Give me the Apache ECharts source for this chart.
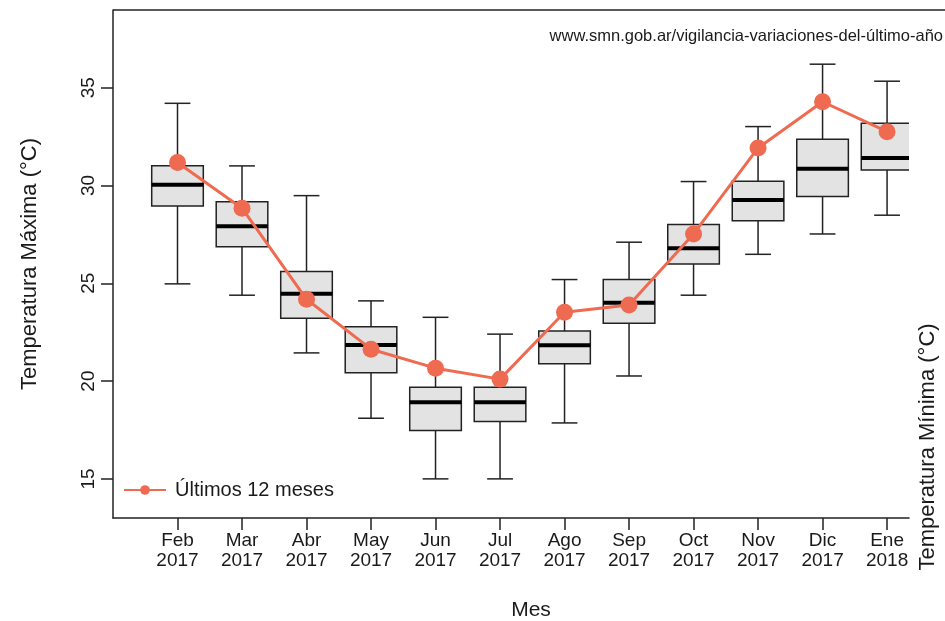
<!DOCTYPE html>
<html>
<head>
<meta charset="utf-8">
<script src="https://cdn.jsdelivr.net/npm/echarts@6/dist/echarts.min.js"></script>
<style>
  html, body { margin: 0; padding: 0; background: #fff; }
  #chart { width: 945px; height: 621px; }
</style>
</head>
<body>
<div id="chart"></div>
<script>
var months = ['Feb', 'Mar', 'Abr', 'May', 'Jun', 'Jul', 'Ago', 'Sep', 'Oct', 'Nov', 'Dic', 'Ene'];
var years = ['2017', '2017', '2017', '2017', '2017', '2017', '2017', '2017', '2017', '2017', '2017', '2018'];

// historical box stats per month
var whiskerLow = [24.97, 24.39, 21.44, 18.10, 15.00, 15.00, 17.86, 20.26, 24.39, 26.48, 27.52, 28.48];
var q1 = [28.95, 26.87, 23.21, 20.42, 17.47, 17.93, 20.89, 22.96, 25.99, 28.20, 29.43, 30.79];
var median = [30.04, 27.92, 24.47, 21.85, 18.92, 18.92, 21.83, 24.00, 26.79, 29.26, 30.86, 31.41];
var q3 = [31.01, 29.17, 25.60, 22.78, 19.69, 19.69, 22.56, 25.19, 28.00, 30.22, 32.36, 33.18];
var whiskerHigh = [34.20, 31.00, 29.48, 24.10, 23.26, 22.40, 25.19, 27.10, 30.20, 33.01, 36.20, 35.33];

// last 12 months
var last12 = [31.17, 28.84, 24.18, 21.63, 20.66, 20.10, 23.52, 23.89, 27.52, 31.92, 34.28, 32.75];

var yTicks = [15, 20, 25, 30, 35];

var positions = months.map(function (m, i) { return i + 1; });
var boxData = positions.map(function (p, i) {
    return [p, whiskerLow[i], q1[i], median[i], q3[i], whiskerHigh[i]];
});
var lineData = positions.map(function (p, i) { return [p, last12[i]]; });

var chart = echarts.init(document.getElementById('chart'));

function renderBox(params, api) {
    var x = api.value(0);
    var lo = api.coord([x, api.value(1)]);
    var b1 = api.coord([x, api.value(2)]);
    var md = api.coord([x, api.value(3)]);
    var b3 = api.coord([x, api.value(4)]);
    var hi = api.coord([x, api.value(5)]);
    var half = api.size([0.8, 0])[0] / 2;
    var stap = api.size([0.4, 0])[0] / 2;
    var st = { stroke: '#222', lineWidth: 1.5 };
    return {
        type: 'group',
        children: [
            { type: 'line', shape: { x1: lo[0], y1: b1[1], x2: lo[0], y2: lo[1] }, style: st },
            { type: 'line', shape: { x1: hi[0], y1: b3[1], x2: hi[0], y2: hi[1] }, style: st },
            { type: 'line', shape: { x1: lo[0] - stap, y1: lo[1], x2: lo[0] + stap, y2: lo[1] }, style: st },
            { type: 'line', shape: { x1: hi[0] - stap, y1: hi[1], x2: hi[0] + stap, y2: hi[1] }, style: st },
            { type: 'rect', shape: { x: b3[0] - half, y: b3[1], width: half * 2, height: b1[1] - b3[1] },
              style: { fill: '#e3e3e3', stroke: '#222', lineWidth: 1.5 } },
            { type: 'line', shape: { x1: md[0] - half, y1: md[1], x2: md[0] + half, y2: md[1] },
              style: { stroke: '#000', lineWidth: 4 } }
        ]
    };
}

var font = 'Liberation Sans, Arial, sans-serif';

var option = {
    animation: false,
    textStyle: { fontFamily: font },
    grid: { left: 113, top: 10, right: 36, bottom: 103 },
    legend: {
        left: 118, top: 475,
        itemWidth: 42, itemHeight: 12,
        textStyle: { fontSize: 20, color: '#1a1a1a', fontFamily: font, padding: [0, 0, 0, 4] },
        data: ['Últimos 12 meses']
    },
    xAxis: {
        type: 'value', min: 0, max: 12.34,
        splitLine: { show: false },
        axisLine: { onZero: false, lineStyle: { color: '#222', width: 1.5 } },
        axisTick: { length: 12, customValues: positions, lineStyle: { color: '#222', width: 1.5 } },
        axisLabel: {
            customValues: positions, margin: 13, fontSize: 19, lineHeight: 20, color: '#1a1a1a',
            formatter: function (v) { var i = Math.round(v) - 1; return months[i] + '\n' + years[i]; }
        }
    },
    yAxis: {
        type: 'value', min: 13.0, max: 38.97,
        name: 'Temperatura Máxima (°C)', nameLocation: 'middle', nameGap: 72,
        nameTextStyle: { fontSize: 22, color: '#1a1a1a' },
        splitLine: { show: false },
        axisLine: { show: true, lineStyle: { color: '#222', width: 1.5 } },
        axisTick: { show: true, length: 12, customValues: yTicks, lineStyle: { color: '#222', width: 1.5 } },
        axisLabel: { customValues: yTicks, rotate: 90, margin: 15, fontSize: 19, color: '#1a1a1a' }
    },
    graphic: [
        { type: 'line', shape: { x1: 113, y1: 10, x2: 945, y2: 10 }, style: { stroke: '#222', lineWidth: 1.5 } },
        { type: 'text', right: 2, top: 28,
          style: { text: 'www.smn.gob.ar/vigilancia-variaciones-del-último-año', font: '16.5px ' + font, fill: '#1a1a1a' } },
        { type: 'text', x: 531, y: 610,
          style: { text: 'Mes', font: '21px ' + font, fill: '#1a1a1a', align: 'center', verticalAlign: 'middle' } },
        { type: 'text', x: 928, y: 447, rotation: Math.PI / 2,
          style: { text: 'Temperatura Mínima (°C)', font: '22px ' + font, fill: '#1a1a1a', align: 'center', verticalAlign: 'middle' } }
    ],
    series: [
        {
            type: 'custom', name: 'hist', clip: true, z: 2,
            renderItem: renderBox,
            encode: { x: 0, y: [1, 2, 3, 4, 5] },
            data: boxData
        },
        {
            type: 'line', name: 'Últimos 12 meses', z: 5,
            symbol: 'circle', symbolSize: 17,
            lineStyle: { color: '#EE6A50', width: 3 },
            itemStyle: { color: '#EE6A50' },
            data: lineData
        }
    ]
};

chart.setOption(option);
</script>
</body>
</html>
